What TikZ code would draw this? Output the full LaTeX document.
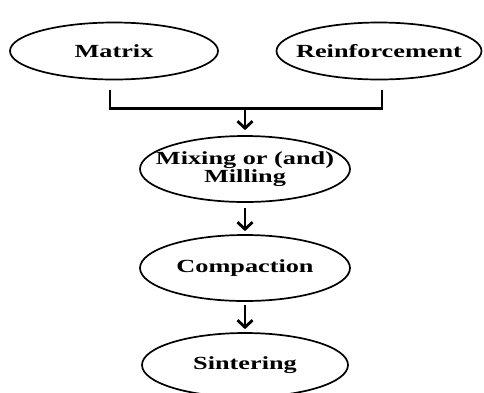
\documentclass[tikz,border=0pt]{standalone}
\usepackage{fontspec}
\setmainfont[FakeStretch=1.42]{Liberation Serif}
\usetikzlibrary{positioning, arrows.meta, shapes.geometric}
\newcommand{\steptext}[1]{\makebox[0pt]{#1}}

\begin{document}
\begin{tikzpicture}
    [
        x=1pt, y=1pt, node distance=100pt and 131pt, on grid,
        step_node/.style={ellipse, draw=black, line width=0.6mm, inner sep=0pt, minimum width=210pt, minimum height=66pt, align=center, font=\fontsize{18.5}{18.5}\selectfont\bfseries},
        flow_arrow/.style={line width=1mm, -{Straight Barb[length=7pt, width=15pt, line width=1mm]}},
    ]
        \useasboundingbox (0,0) rectangle (484,-392) ;
        \node[step_node] (mix) at (245,-169) {\steptext{Mixing or (and)}\\[0pt]\steptext{Milling}} ;
        \node[step_node, minimum width=208pt, minimum height=57pt] (matrix) [above left = 118pt and 131pt of mix] {\steptext{Matrix}} ;
        \node[step_node, minimum width=205pt, minimum height=57pt] (reinf) [above right = 118pt and 134pt of mix] {\steptext{Reinforcement}} ;
        \node[step_node] (compact) [below = 99pt of mix] {\steptext{Compaction}} ;
        \node[step_node, minimum width=206pt, minimum height=64pt] (sinter) [below = 97pt of compact] {\steptext{Sintering}} ;
        \coordinate (join) at ([yshift=-28pt]matrix.south -| mix.north) ;
        \draw[line width=1mm] ([xshift=-4pt, yshift=-10pt]matrix.south) |- ([xshift=3pt, yshift=-28pt]reinf.south) -- ([xshift=3pt, yshift=-10pt]reinf.south) ;
        \draw[flow_arrow] (join) -- ([yshift=5pt]mix.north) ;
        \draw[flow_arrow] ([yshift=-5pt]mix.south) -- ([yshift=3pt]compact.north) ;
        \draw[flow_arrow] ([yshift=-3pt]compact.south) -- ([yshift=3pt]sinter.north) ;
    \end{tikzpicture}
\end{document}
